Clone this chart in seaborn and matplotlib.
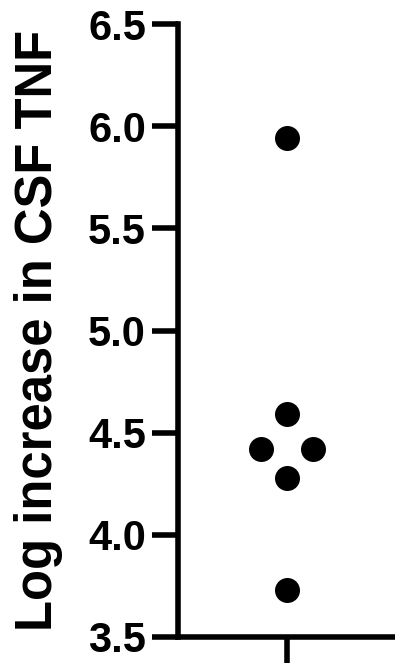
import numpy as np
import pandas as pd
import matplotlib
matplotlib.use("Agg")
import matplotlib.pyplot as plt
import seaborn as sns

# Log increase in CSF TNF, one value per subject
log_tnf = [5.94, 4.59, 4.42, 4.42, 4.28, 3.73]
group = ["TNF"] * len(log_tnf)
y_ticks = [3.5, 4.0, 4.5, 5.0, 5.5, 6.0, 6.5]
y_tick_labels = ["3.5", "4.0", "4.5", "5.0", "5.5", "6.0", "6.5"]
y_label = "Log increase in CSF TNF"

df = pd.DataFrame({"group": group, "log_tnf": log_tnf})

sns.set_theme(style="ticks")
plt.rcParams["font.family"] = ["Liberation Sans", "DejaVu Sans"]
plt.rcParams["font.weight"] = "bold"

W, H = 395, 664
fig = plt.figure(figsize=(W / 100, H / 100), dpi=100)
fig.patch.set_facecolor("white")
ax = fig.add_axes([178 / W, 27 / H, 218 / W, 613 / H])
ax.set_facecolor("white")

sns.swarmplot(data=df, x="group", y="log_tnf", color="black", size=18,
              linewidth=0, ax=ax)

ax.set_xlim(-0.5, 0.5)
ax.set_ylim(y_ticks[0], y_ticks[-1])
ax.set_yticks(y_ticks)
ax.set_yticklabels(y_tick_labels)
ax.set_xticklabels([""])
ax.set_xlabel("")
ax.set_ylabel(y_label, fontsize=36.5, fontweight="bold", color="black")
ax.yaxis.set_label_coords(-0.5275, 0.5)

for side in ("top", "right"):
    ax.spines[side].set_visible(False)
for side in ("left", "bottom"):
    ax.spines[side].set_linewidth(4)
    ax.spines[side].set_color("black")

ax.tick_params(axis="both", direction="out", length=19, width=4,
               color="black", labelcolor="black")
ax.tick_params(axis="y", labelsize=30, pad=4)
for lab in ax.get_yticklabels():
    lab.set_fontweight("bold")

# Lay out the swarm, then spread tied values symmetrically about the category
fig.canvas.draw()
pts = ax.collections[0]
xy = np.asarray(pts.get_offsets()).copy()
center = 0.0
step = np.abs(xy[:, 0] - center).max()
for yval in np.unique(xy[:, 1]):
    idx = np.where(np.isclose(xy[:, 1], yval))[0]
    n = len(idx)
    if n > 1 and step > 0:
        xy[idx, 0] = center + step * (np.arange(n) - (n - 1) / 2) * 2
pts.__dict__.pop("draw", None)
pts.set_offsets(xy)

fig.savefig("out.png", dpi=100, facecolor="white")
